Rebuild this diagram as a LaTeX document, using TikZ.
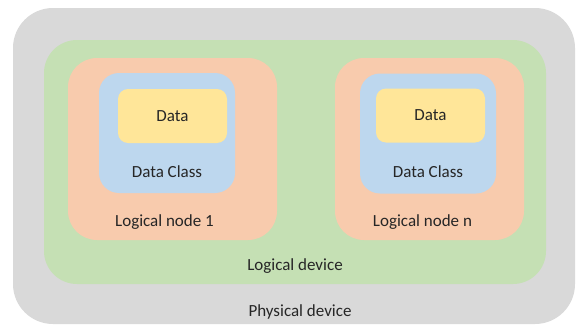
\documentclass[tikz,border=0pt]{standalone}
\usepackage{fontspec}
\setmainfont{Carlito}
\usetikzlibrary{positioning}
\definecolor{IedGray}{HTML}{D9D9D9}
\definecolor{IedGreen}{HTML}{C5E0B4}
\definecolor{IedOrange}{HTML}{F8CBAD}
\definecolor{IedBlue}{HTML}{BDD7EE}
\definecolor{IedYellow}{HTML}{FFE699}
\definecolor{IedText}{HTML}{262626}
\tikzset{
  ied layer/.style={
    draw=none,
    inner sep=0pt,
    text=IedText,
    font=\fontsize{17}{20}\selectfont
  },
  ied physical/.style={
    ied layer,
    fill=IedGray,
    rounded corners=40pt,
    minimum width=562pt,
    minimum height=316pt
  },
  ied logical/.style={
    ied layer,
    fill=IedGreen,
    rounded corners=33pt,
    minimum width=502pt,
    minimum height=244pt
  },
  ied node box/.style={
    ied layer,
    fill=IedOrange,
    rounded corners=29pt,
    minimum height=182pt
  },
  ied class box/.style={
    ied layer,
    fill=IedBlue,
    rounded corners=20pt,
    minimum width=136pt,
    minimum height=120pt
  },
  ied data box/.style={
    ied layer,
    fill=IedYellow,
    rounded corners=10pt,
    minimum width=109pt,
    minimum height=54pt
  },
  ied label/.style={
    text=IedText,
    inner sep=0pt,
    text height=12pt,
    text depth=4pt,
    font=\fontsize{17}{20}\selectfont
  }
}

\begin{document}
\begin{tikzpicture}[x=1pt,y=1pt]
  \useasboundingbox (0,0) rectangle (576,325);

  % nested boxes, outermost first
  \node[ied physical] (physdev) at (294,159) {};
  \node[ied logical] (logdev) at (295,163) {};

  \node[ied node box,minimum width=209pt] (lnone) at (172.5,176) {};
  \node[ied node box,minimum width=189pt] (lnn) at (429.5,176) {};

  \node[ied class box] (dcone) at (167,192) {};
  \node[ied class box] (dcn) at (428,191.5) {};

  \node[ied data box] (dataone) at (172.5,209) {Data};
  \node[ied data box] (datan) at (430.5,209.5) {Data};

  % captions sit at the foot of each box
  \node[ied label,above=12pt of dcone.south] (dconelabel) {Data Class};
  \node[ied label,above=12pt of dcn.south] (dcnlabel) {Data Class};
  \node[ied label,above=10pt of lnone.south,xshift=-8pt] (lnonelabel) {Logical node 1};
  \node[ied label,above=10pt of lnn.south,xshift=-7pt] (lnnlabel) {Logical node n};
  \node[ied label,above=10pt of logdev.south] (logdevlabel) {Logical device};
  \node[ied label,above=4pt of physdev.south,xshift=6pt] (physdevlabel) {Physical device};
\end{tikzpicture}
\end{document}
